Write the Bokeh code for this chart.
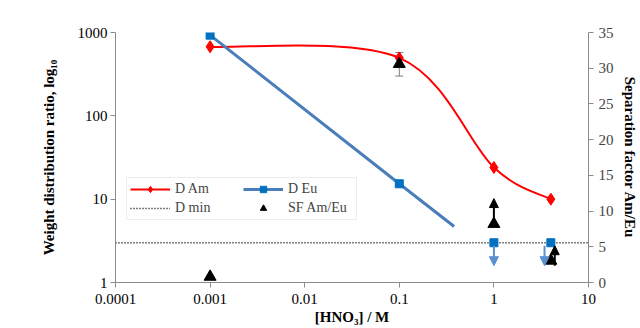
import math
from bokeh.plotting import figure
from bokeh.models import (Range1d, LinearAxis, LinearScale, FixedTicker, CustomJSTickFormatter,
                          ColumnDataSource, Whisker, Arrow, NormalHead, Legend,
                          LegendItem)
from bokeh.embed import file_html
from bokeh.resources import INLINE

# ---------------- data ----------------
hno3 = [0.001, 0.1, 1, 4]
d_am = [675, 496, 24, 10]
d_eu = [930, 15.3, 3, 3]
eu_line_x = [0.001, 0.1, 0.38]
eu_line_y = [930, 15.3, 4.7]
d_min = 3
sf_x = [0.001, 0.1, 1, 4]
sf = [0.8, 30.6, 8.2, 3.05]
sf_err_x = [0.1]
sf_err_lo = [28.9]
sf_err_hi = [32.2]
sf_arrow_x = [1, 4.4]
sf_arrow_from = [8.9, 2.35]
sf_arrow_to = [11.75, 5.15]
eu_arrow_x = [1, 3.43]
eu_arrow_from = [2.77, 2.77]
eu_arrow_to = [1.59, 1.59]
x_ticks = [0.0001, 0.001, 0.01, 0.1, 1, 10]
y_ticks = [1, 10, 100, 1000]
sf_ticks = [0, 5, 10, 15, 20, 25, 30, 35]
x_lim = (0.0001, 10)
y_lim = (1, 1000)
sf_lim = (0, 35)

FONT = "Liberation Serif"
AXC = "#8c8c8c"

p = figure(frame_width=473, frame_height=250, x_axis_type="log", y_axis_type="log",
           x_range=Range1d(*x_lim), y_range=Range1d(*y_lim),
           output_backend="svg", toolbar_location=None,
           min_border_left=115, min_border_right=52, min_border_top=32,
           min_border_bottom=46)
p.extra_y_ranges = {"sf": Range1d(*sf_lim)}
p.extra_y_scales = {"sf": LinearScale()}
p.grid.visible = False
p.outline_line_color = None
p.background_fill_color = "white"
p.border_fill_color = "white"

fmt = CustomJSTickFormatter(code="return tick.toString();")
for ax in (p.xaxis[0], p.yaxis[0]):
    ax.ticker = FixedTicker(ticks=x_ticks if ax is p.xaxis[0] else y_ticks)
    ax.formatter = fmt
    ax.minor_tick_line_color = None
    ax.axis_line_color = AXC
    ax.major_tick_line_color = AXC
    ax.major_tick_out = 5
    ax.major_tick_in = 0
    ax.major_label_text_font = FONT
    ax.major_label_text_font_size = "15px"
    ax.major_label_text_color = "black"
    ax.axis_label_text_font = FONT
    ax.axis_label_text_font_style = "bold"
    ax.axis_label_text_font_size = "15px"
    ax.axis_label_text_color = "black"
p.xaxis.major_label_standoff = 6
p.xaxis.axis_label = "[HNO\u2083] / M"
p.xaxis.axis_label_standoff = 2
p.yaxis.major_label_standoff = 3
p.yaxis.axis_label = "Weight distribution ratio, log\u2081\u2080"
p.yaxis.axis_label_standoff = 18

rax = LinearAxis(y_range_name="sf", ticker=FixedTicker(ticks=sf_ticks))
rax.minor_tick_line_color = None
rax.axis_line_color = AXC
rax.major_tick_line_color = AXC
rax.major_tick_out = 5
rax.major_tick_in = 0
rax.major_label_standoff = 5
rax.major_label_text_font = FONT
rax.major_label_text_font_size = "15px"
rax.axis_label = "Separation factor Am/Eu"
rax.axis_label_text_font = FONT
rax.axis_label_text_font_style = "bold"
rax.axis_label_text_font_size = "15px"
rax.axis_label_text_color = "black"
rax.axis_label_standoff = 5
p.add_layout(rax, "right")

# D min dotted line
dmin_r = p.line(x=list(x_lim), y=[d_min, d_min], line_color="black",
                line_width=1.5, line_dash="1 2")

# smooth D Am curve (Catmull-Rom in log space drawn as cubic Beziers)
lx = [math.log10(v) for v in hno3]
ly = [math.log10(v) for v in d_am]
n = len(lx)
bx0, by0, bx1, by1, cx0, cy0, cx1, cy1 = [], [], [], [], [], [], [], []
for i in range(n - 1):
    im1 = max(i - 1, 0)
    ip2 = min(i + 2, n - 1)
    c1x = lx[i] + (lx[i + 1] - lx[im1]) / 6
    c1y = ly[i] + (ly[i + 1] - ly[im1]) / 6
    c2x = lx[i + 1] - (lx[ip2] - lx[i]) / 6
    c2y = ly[i + 1] - (ly[ip2] - ly[i]) / 6
    bx0.append(hno3[i]); by0.append(d_am[i])
    bx1.append(hno3[i + 1]); by1.append(d_am[i + 1])
    cx0.append(10 ** c1x); cy0.append(10 ** c1y)
    cx1.append(10 ** c2x); cy1.append(10 ** c2y)
p.bezier(x0=bx0, y0=by0, x1=bx1, y1=by1, cx0=cx0, cy0=cy0, cx1=cx1, cy1=cy1,
         line_color="#ff0000", line_width=2)
nan = float("nan")
am_leg_line = p.line(x=[nan], y=[nan], line_color="#ff0000", line_width=2)
am_pts = p.scatter(hno3, d_am, marker="diamond", size=12, color="#ff0000")

# D Eu line
eu_line = p.line(eu_line_x, eu_line_y, line_color="#4a7ebb", line_width=3)
eu_pts = p.scatter(hno3, d_eu, marker="square", size=8, color="#0070c0")

# Eu arrows (upper limits)
eu_src = ColumnDataSource(dict(x=eu_arrow_x, y0=eu_arrow_from, y1=eu_arrow_to))
p.add_layout(Arrow(end=NormalHead(size=9, fill_color="#5b8fd0", line_color="#5b8fd0"),
                   x_start="x", y_start="y0", x_end="x", y_end="y1", source=eu_src,
                   line_color="#5b8fd0", line_width=2))

# SF points
sf_pts = p.scatter(sf_x, sf, marker="triangle", size=12, color="black", y_range_name="sf")
err_src = ColumnDataSource(dict(x=sf_err_x, lo=sf_err_lo, hi=sf_err_hi))
w = Whisker(base="x", lower="lo", upper="hi", source=err_src, y_range_name="sf",
            line_color="#7f7f7f", line_width=1)
w.upper_head.line_color = "#7f7f7f"
w.lower_head.line_color = "#7f7f7f"
w.upper_head.size = 8
w.lower_head.size = 8
p.add_layout(w)
sf_src = ColumnDataSource(dict(x=sf_arrow_x, y0=sf_arrow_from, y1=sf_arrow_to))
p.add_layout(Arrow(end=NormalHead(size=9, fill_color="black", line_color="black"),
                   x_start="x", y_start="y0", x_end="x", y_end="y1", source=sf_src,
                   y_range_name="sf", line_color="black", line_width=2))

legend = Legend(items=[
    LegendItem(label="D Am", renderers=[am_leg_line, am_pts]),
    LegendItem(label="D Eu", renderers=[eu_line, eu_pts]),
    LegendItem(label="D min", renderers=[dmin_r]),
    LegendItem(label="SF Am/Eu", renderers=[sf_pts]),
], location=(11, 62), orientation="horizontal", ncols=2)
legend.label_text_font = FONT
legend.label_text_font_size = "14px"
legend.glyph_width = 40
legend.glyph_height = 16
legend.label_height = 16
legend.label_width = 65
legend.label_standoff = 5
legend.spacing = 3
legend.padding = 3
legend.margin = 0
legend.border_line_color = "#d9d9d9"
legend.background_fill_alpha = 1
p.add_layout(legend)

open("out.html", "w").write(file_html(p, INLINE))
